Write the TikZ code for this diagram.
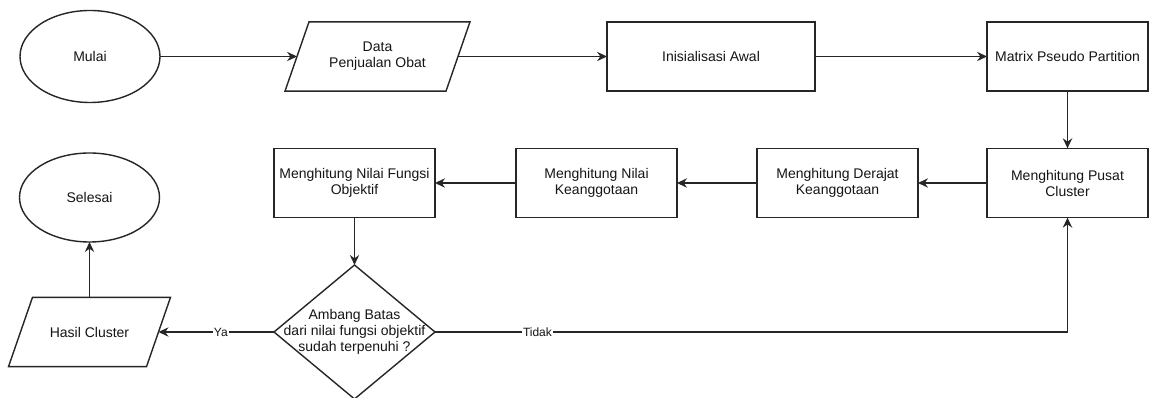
\documentclass[tikz,border=0pt]{standalone}
\usepackage{fontspec}
\setmainfont{Liberation Sans}
\usetikzlibrary{shapes.geometric,arrows.meta,calc}
\definecolor{strokec}{HTML}{262626}
\definecolor{textc}{HTML}{151515}
\tikzset{
  base/.style={draw=strokec, line width=1.05pt, text=textc, align=center,
    font=\fontsize{10.5pt}{12pt}\selectfont, inner sep=0pt, outer sep=0pt},
  procbox/.style={base, rectangle, minimum width=120.75pt, minimum height=52pt},
  termin/.style={base, ellipse, minimum width=105pt, minimum height=69pt},
  iobox/.style={base, draw=none, rectangle, minimum height=52pt},
  decis/.style={base, diamond, minimum width=120.75pt, minimum height=100.5pt},
  arr/.style={draw=strokec, line width=1.05pt, -{Stealth[length=7.5pt,width=7pt,inset=2.5pt]}},
  lbl/.style={fill=white, text=textc, font=\fontsize{9pt}{10pt}\selectfont, inner sep=1pt},
  iopath/.style={draw=strokec, line width=1.05pt}
}
\begin{document}
\begin{tikzpicture}[x=0.75pt, y=-0.75pt]
\useasboundingbox (0,0) rectangle (1152,398);
\fill[white] (0,0) rectangle (1152,398);

\node[termin] (mulai) at (90,56.5) {Mulai};
\node[iobox, minimum width=120.75pt] (data) at (377.5,56.5) {Data\\Penjualan Obat};
\node[procbox, minimum width=156pt] (init) at (711,56.5) {Inisialisasi Awal};
\node[procbox] (matrix) at (1067.5,56.5) {Matrix Pseudo Partition};
\node[procbox] (pusat) at (1067.5,183) {Menghitung Pusat\\Cluster};
\node[procbox] (derajat) at (837.5,183) {Menghitung Derajat\\Keanggotaan};
\node[procbox] (nilai) at (596.5,183) {Menghitung Nilai\\Keanggotaan};
\node[procbox] (fungsi) at (354.5,183) {Menghitung Nilai Fungsi\\Objektif};
\node[decis] (dec) at (354.5,332) {};
\node[base, draw=none] (dectext) at (dec.center) {Ambang Batas\\dari nilai fungsi objektif\\sudah terpenuhi ?};
\node[iobox, minimum width=103.5pt] (hasil) at (89.5,332) {Hasil Cluster};
\node[termin, minimum height=66.75pt] (selesai) at (89.5,197.5) {Selesai};

% parallelograms
\draw[iopath] ($(data.north west)+(12,0)$) -- ($(data.north east)+(12,0)$)
  -- ($(data.south east)+(-12,0)$) -- ($(data.south west)+(-12,0)$) -- cycle;
\draw[iopath] ($(hasil.north west)+(12,0)$) -- ($(hasil.north east)+(12,0)$)
  -- ($(hasil.south east)+(-12,0)$) -- ($(hasil.south west)+(-12,0)$) -- cycle;

% connectors
\draw[arr] (mulai.east) -- (data.west);
\draw[arr] (data.east) -- (init.west);
\draw[arr] (init.east) -- (matrix.west);
\draw[arr] (matrix.south) -- (pusat.north);
\draw[arr] (pusat.west) -- (derajat.east);
\draw[arr] (derajat.west) -- (nilai.east);
\draw[arr] (nilai.west) -- (fungsi.east);
\draw[arr] (fungsi.south) -- (dec.north);
\draw[arr] (dec.west) -- node[lbl, pos=0.46] {Ya} (hasil.east);
\draw[arr] (dec.east) -| node[lbl, pos=0.081] {Tidak} (pusat.south);
\draw[arr] (hasil.north) -- (selesai.south);
\end{tikzpicture}
\end{document}
